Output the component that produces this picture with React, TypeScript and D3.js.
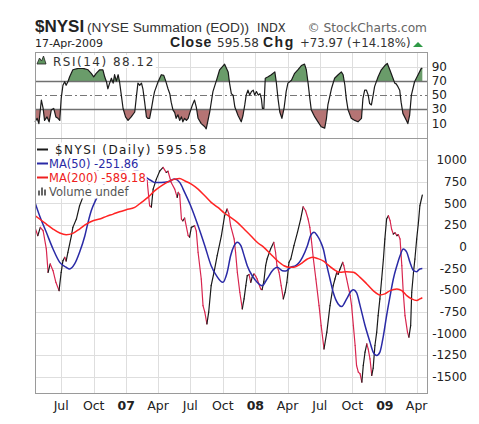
import React, { useEffect, useRef } from 'react';
import * as d3 from 'd3';

type Pt = [string, number];

const nysi: Pt[] = [
  ['2006-04-18',223],['2006-04-26',127],['2006-05-03',223],['2006-05-11',184],['2006-05-20',-26],['2006-05-25',-295],['2006-05-31',-199],['2006-06-08',-276],['2006-06-16',-410],['2006-06-25',-506],['2006-07-01',-295],['2006-07-06',-161],['2006-07-11',-122],['2006-07-15',-165],['2006-07-20',-64],['2006-07-30',127],['2006-08-03',223],['2006-08-13',319],['2006-08-22',472],['2006-08-30',557],['2006-09-15',700],['2006-10-05',850],['2006-10-24',920],['2006-11-16',980],['2006-12-09',1000],['2006-12-28',940],['2007-01-17',900],['2007-02-06',850],['2007-02-20',800],['2007-03-01',760],['2007-03-08',472],['2007-03-13',457],['2007-03-18',664],['2007-03-27',779],['2007-04-06',875],['2007-04-15',914],['2007-04-24',856],['2007-04-29',870],['2007-05-08',741],['2007-05-18',664],['2007-05-25',568],['2007-05-28',626],['2007-06-01',600],['2007-06-06',319],['2007-06-10',299],['2007-06-15',330],['2007-06-25',127],['2007-06-29',110],['2007-07-04',223],['2007-07-13',242],['2007-07-18',180],['2007-07-23',-64],['2007-08-01',-372],['2007-08-06',-679],['2007-08-11',-755],['2007-08-17',-890],['2007-08-22',-755],['2007-08-29',-449],['2007-09-06',-295],['2007-09-15',-104],['2007-09-27',127],['2007-10-06',357],['2007-10-13',434],['2007-10-18',380],['2007-10-23',242],['2007-11-02',89],['2007-11-06',-64],['2007-11-11',-295],['2007-11-18',-525],['2007-11-25',-717],['2007-11-30',-602],['2007-12-05',-449],['2007-12-09',-334],['2007-12-14',-320],['2007-12-19',-410],['2007-12-23',-350],['2007-12-28',-314],['2008-01-02',-340],['2008-01-06',-372],['2008-01-16',-487],['2008-01-20',-495],['2008-01-25',-400],['2008-01-30',-219],['2008-02-03',-142],['2008-02-13',-26],['2008-02-22',51],['2008-02-27',-64],['2008-03-02',-219],['2008-03-08',-295],['2008-03-14',-449],['2008-03-20',-602],['2008-03-25',-525],['2008-03-30',-410],['2008-04-05',-180],['2008-04-10',-142],['2008-04-19',12],['2008-04-29',166],['2008-05-08',319],['2008-05-15',460],['2008-05-22',414],['2008-05-29',319],['2008-06-03',223],['2008-06-07',89],['2008-06-13',-142],['2008-06-20',-372],['2008-06-29',-679],['2008-07-05',-909],['2008-07-13',-1179],['2008-07-21',-985],['2008-07-30',-679],['2008-08-08',-449],['2008-08-13',-372],['2008-08-18',-295],['2008-08-22',-320],['2008-08-27',-260],['2008-09-04',-180],['2008-09-07',-219],['2008-09-15',-372],['2008-09-25',-564],['2008-09-29',-679],['2008-10-04',-909],['2008-10-09',-1139],['2008-10-13',-1369],['2008-10-18',-1446],['2008-10-23',-1465],['2008-10-28',-1561],['2008-11-01',-1369],['2008-11-06',-1215],['2008-11-11',-1120],['2008-11-15',-1180],['2008-11-20',-1292],['2008-11-25',-1484],['2008-11-29',-1400],['2008-12-04',-1139],['2008-12-09',-985],['2008-12-13',-794],['2008-12-18',-602],['2008-12-23',-372],['2008-12-28',-142],['2009-01-01',89],['2009-01-06',319],['2009-01-11',357],['2009-01-16',299],['2009-01-20',204],['2009-01-25',146],['2009-01-30',160],['2009-02-04',127],['2009-02-08',140],['2009-02-13',89],['2009-02-18',-219],['2009-02-22',-525],['2009-02-27',-794],['2009-03-06',-985],['2009-03-10',-1043],['2009-03-15',-909],['2009-03-18',-525],['2009-03-23',-295],['2009-03-27',-142],['2009-04-01',89],['2009-04-06',281],['2009-04-10',472],['2009-04-17',596],
];

const ma50: Pt[] = [
  ['2006-04-18',511],['2006-05-01',357],['2006-05-20',166],['2006-06-08',-26],['2006-06-27',-180],['2006-07-15',-237],['2006-07-25',-257],['2006-08-08',-199],['2006-08-22',-64],['2006-09-06',127],['2006-09-15',281],['2006-09-24',414],['2006-10-08',549],['2006-10-24',680],['2006-11-16',800],['2006-12-14',870],['2007-01-12',900],['2007-02-09',860],['2007-03-01',790],['2007-03-13',760],['2007-03-22',741],['2007-04-10',741],['2007-04-29',748],['2007-05-18',779],['2007-06-01',741],['2007-06-15',626],['2007-07-04',453],['2007-07-23',242],['2007-08-11',12],['2007-08-29',-219],['2007-09-13',-334],['2007-10-01',-410],['2007-10-13',-300],['2007-10-23',-104],['2007-11-02',12],['2007-11-11',51],['2007-11-21',12],['2007-11-30',-100],['2007-12-09',-219],['2007-12-23',-334],['2008-01-06',-410],['2008-01-20',-449],['2008-02-03',-372],['2008-02-18',-276],['2008-03-03',-237],['2008-03-17',-276],['2008-03-27',-280],['2008-04-10',-237],['2008-04-24',-219],['2008-05-13',-122],['2008-05-27',12],['2008-06-05',127],['2008-06-15',166],['2008-06-24',127],['2008-07-04',51],['2008-07-11',-26],['2008-07-21',-219],['2008-07-30',-372],['2008-08-08',-525],['2008-08-22',-660],['2008-09-01',-690],['2008-09-15',-602],['2008-09-29',-506],['2008-10-04',-495],['2008-10-13',-530],['2008-10-23',-679],['2008-11-06',-909],['2008-11-20',-1100],['2008-11-29',-1215],['2008-12-09',-1254],['2008-12-18',-1215],['2008-12-28',-1024],['2009-01-06',-794],['2009-01-16',-564],['2009-01-25',-372],['2009-02-04',-219],['2009-02-13',-104],['2009-02-22',-26],['2009-03-04',-64],['2009-03-13',-180],['2009-03-23',-276],['2009-04-01',-288],['2009-04-10',-257],['2009-04-17',-252],
];

const ma200: Pt[] = [
  ['2006-04-18',360],['2006-05-01',319],['2006-05-20',261],['2006-06-08',204],['2006-06-27',158],['2006-07-15',138],['2006-08-03',154],['2006-08-22',204],['2006-09-10',261],['2006-09-29',299],['2006-10-18',319],['2006-11-06',350],['2006-11-25',376],['2006-12-13',403],['2007-01-01',426],['2007-01-25',453],['2007-02-13',511],['2007-03-03',568],['2007-03-22',644],['2007-04-10',702],['2007-04-29',748],['2007-05-18',779],['2007-06-01',787],['2007-06-15',760],['2007-07-04',722],['2007-07-23',664],['2007-08-11',587],['2007-08-29',511],['2007-09-17',453],['2007-10-06',386],['2007-10-23',338],['2007-11-11',281],['2007-11-30',204],['2007-12-19',127],['2008-01-06',51],['2008-01-25',-7],['2008-02-13',-84],['2008-03-03',-161],['2008-03-22',-219],['2008-04-05',-237],['2008-04-19',-237],['2008-05-08',-199],['2008-05-27',-142],['2008-06-10',-122],['2008-06-24',-135],['2008-07-13',-170],['2008-07-21',-199],['2008-08-08',-257],['2008-08-27',-295],['2008-09-15',-288],['2008-10-04',-295],['2008-10-23',-353],['2008-11-11',-429],['2008-11-29',-506],['2008-12-18',-556],['2009-01-01',-544],['2009-01-16',-506],['2009-02-04',-487],['2009-02-18',-506],['2009-03-04',-564],['2009-03-18',-602],['2009-04-01',-621],['2009-04-10',-602],['2009-04-17',-589],
];

const rsi: Pt[] = [
  ['2006-04-18',12],['2006-04-24',17],['2006-04-29',9.5],['2006-05-06',43],['2006-05-11',31],['2006-05-15',14],['2006-05-22',19],['2006-05-28',12],['2006-06-03',29],['2006-06-10',31],['2006-06-16',19],['2006-06-22',17],['2006-06-27',14],['2006-07-01',45],['2006-07-06',64],['2006-07-11',69],['2006-07-15',64],['2006-07-20',69],['2006-07-25',76],['2006-08-03',86],['2006-08-18',88],['2006-09-01',88],['2006-09-15',86],['2006-09-24',81],['2006-10-01',76],['2006-10-08',81],['2006-10-18',86],['2006-10-27',86],['2006-11-01',76],['2006-11-06',69],['2006-11-10',59],['2006-11-15',67],['2006-11-20',74],['2006-11-25',67],['2006-11-29',79],['2006-12-04',70],['2006-12-09',79],['2006-12-13',69],['2006-12-18',50],['2006-12-23',31],['2006-12-30',19],['2007-01-06',14],['2007-01-15',19],['2007-01-25',26],['2007-01-29',45],['2007-02-03',67],['2007-02-08',64],['2007-02-13',67],['2007-02-17',59],['2007-02-22',40],['2007-02-27',19],['2007-03-03',17],['2007-03-08',17],['2007-03-13',30],['2007-03-18',45],['2007-03-22',55],['2007-04-01',69],['2007-04-10',79],['2007-04-17',78],['2007-04-22',71],['2007-04-29',59],['2007-05-04',52],['2007-05-08',40],['2007-05-13',29],['2007-05-18',25],['2007-05-22',17],['2007-05-27',22],['2007-06-01',14],['2007-06-06',19],['2007-06-10',12],['2007-06-15',17],['2007-06-20',14],['2007-06-25',17],['2007-06-29',24],['2007-07-07',36],['2007-07-13',43],['2007-07-18',33],['2007-07-23',17],['2007-08-01',9.5],['2007-08-11',5],['2007-08-15',2],['2007-08-25',26],['2007-09-03',55],['2007-09-13',71],['2007-09-22',86],['2007-10-06',94],['2007-10-16',83],['2007-10-20',67],['2007-10-25',52],['2007-10-30',50],['2007-11-04',33],['2007-11-13',21],['2007-11-22',12],['2007-11-27',21],['2007-12-02',36],['2007-12-06',50],['2007-12-11',57],['2007-12-16',50],['2007-12-21',55],['2007-12-26',57],['2007-12-30',50],['2008-01-04',55],['2008-01-09',50],['2008-01-14',52],['2008-01-18',45],['2008-01-21',31],['2008-01-25',31],['2008-01-29',74],['2008-02-06',76],['2008-02-15',79],['2008-02-25',83],['2008-02-29',69],['2008-03-05',45],['2008-03-10',26],['2008-03-16',17],['2008-03-22',31],['2008-03-28',55],['2008-04-02',67],['2008-04-07',69],['2008-04-12',71],['2008-04-21',81],['2008-04-30',86],['2008-05-10',92],['2008-05-19',94],['2008-05-24',86],['2008-05-29',67],['2008-06-03',45],['2008-06-07',29],['2008-06-17',19],['2008-06-26',12],['2008-07-05',5],['2008-07-15',3],['2008-07-20',17],['2008-07-24',36],['2008-08-03',59],['2008-08-12',74],['2008-08-22',79],['2008-08-31',83],['2008-09-05',79],['2008-09-10',64],['2008-09-14',45],['2008-09-19',29],['2008-09-28',17],['2008-10-08',14],['2008-10-17',12],['2008-10-27',17],['2008-10-31',45],['2008-11-05',57],['2008-11-10',57],['2008-11-15',50],['2008-11-19',38],['2008-11-24',36],['2008-11-29',50],['2008-12-03',62],['2008-12-13',76],['2008-12-22',86],['2009-01-01',92],['2009-01-08',95],['2009-01-15',86],['2009-01-24',74],['2009-01-29',67],['2009-02-02',66],['2009-02-07',62],['2009-02-12',57],['2009-02-16',40],['2009-02-21',24],['2009-03-03',14],['2009-03-07',9.5],['2009-03-12',21],['2009-03-17',50],['2009-03-26',69],['2009-04-05',79],['2009-04-14',88],['2009-04-17',88.12],
];

const xTickDates = ['2006-07-01','2006-10-01','2007-01-01','2007-04-01','2007-07-01','2007-10-01','2008-01-01','2008-04-01','2008-07-01','2008-10-01','2009-01-01','2009-04-01'];
const xTickLabels = ['Jul','Oct','07','Apr','Jul','Oct','08','Apr','Jul','Oct','09','Apr'];
const yTicks = [1000,750,500,250,0,-250,-500,-750,-1000,-1250,-1500];
const rsiTicks = [90,70,50,30,10];
const rsiLightLines = [10,90];
const legendLabels = ['$NYSI (Daily) 595.58','MA(50) -251.86','MA(200) -589.18','Volume undef'];
const rsiLabel = 'RSI(14) 88.12';

export default function App() {
  const ref = useRef<SVGSVGElement | null>(null);
  useEffect(() => {
    const svg = d3.select(ref.current as SVGSVGElement);
    svg.selectAll('*').remove();
    const W = 479, H = 424, L = 35, R = 428, rT = 51.5, rB = 138, mT = 138, mB = 393.5;
    const parse = d3.utcParse('%Y-%m-%d');
    const P = (s: string) => parse(s) as Date;
    const x = d3.scaleUtc().domain([P('2006-04-18'), P('2009-05-03')]).range([L, R]);
    const y = d3.scaleLinear().domain([-1692, 1253]).range([mB, mT]);
    const yr = d3.scaleLinear().domain([-11, 112]).range([rB, rT]);
    const sans = '"DejaVu Sans", Verdana, sans-serif';
    const arial = '"Liberation Sans", Arial, sans-serif';
    const gridC = '#dedede';

    svg.append('rect').attr('width', W).attr('height', H).attr('fill', '#fff');

    // header
    const hdr = svg.append('g');
    hdr.append('text').attr('x', 35).attr('y', 31.5).attr('font-family', arial).attr('font-weight', 'bold').attr('font-size', 17).attr('fill', '#222').text('$NYSI');
    hdr.append('text').attr('x', 87).attr('y', 31.5).attr('font-family', arial).attr('font-size', 13.7).attr('fill', '#333').text('(NYSE Summation (EOD))');
    hdr.append('text').attr('x', 257).attr('y', 31.5).attr('font-family', sans).attr('font-size', 11.5).attr('fill', '#333').text('INDX');
    hdr.append('text').attr('x', 427).attr('y', 31.5).attr('text-anchor', 'end').attr('font-family', sans).attr('font-size', 12.2).attr('fill', '#666').text('\u00A9 StockCharts.com');
    hdr.append('text').attr('x', 35).attr('y', 47.2).attr('font-family', sans).attr('font-size', 11).attr('fill', '#222').text('17-Apr-2009');
    hdr.append('text').attr('x', 170).attr('y', 47.2).attr('font-family', arial).attr('font-weight', 'bold').attr('font-size', 14).attr('letter-spacing', 0.8).attr('fill', '#222').text('Close');
    hdr.append('text').attr('x', 217).attr('y', 47.2).attr('font-family', sans).attr('font-size', 12).attr('fill', '#333').text('595.58');
    hdr.append('text').attr('x', 263).attr('y', 47.2).attr('font-family', arial).attr('font-weight', 'bold').attr('font-size', 14).attr('letter-spacing', 1.5).attr('fill', '#222').text('Chg');
    hdr.append('text').attr('x', 300).attr('y', 47.2).attr('font-family', sans).attr('font-size', 11.7).attr('fill', '#333').text('+73.97 (+14.18%)');
    hdr.append('path').attr('d', 'M413,47 L423,47 L418,42 Z').attr('fill', '#2e9a46');

    const defs = svg.append('defs');
    defs.append('clipPath').attr('id', 'mainClip').append('rect').attr('x', L).attr('y', mT).attr('width', R - L).attr('height', mB - mT);
    defs.append('clipPath').attr('id', 'rsiAbove').append('rect').attr('x', L).attr('y', rT).attr('width', R - L).attr('height', yr(70) - rT);
    defs.append('clipPath').attr('id', 'rsiBelow').append('rect').attr('x', L).attr('y', yr(30)).attr('width', R - L).attr('height', rB - yr(30));

    // grid
    const grid = svg.append('g').attr('shape-rendering', 'crispEdges');
    xTickDates.forEach((d) => {
      const xx = Math.round(x(P(d))) + 0.5;
      grid.append('line').attr('x1', xx).attr('x2', xx).attr('y1', rT).attr('y2', mB).attr('stroke', gridC);
    });
    yTicks.forEach((v) => {
      const yy = Math.round(y(v)) + 0.5;
      grid.append('line').attr('x1', L).attr('x2', R).attr('y1', yy).attr('y2', yy).attr('stroke', gridC);
    });
    rsiLightLines.forEach((v) => {
      const yy = Math.round(yr(v)) + 0.5;
      grid.append('line').attr('x1', L).attr('x2', R).attr('y1', yy).attr('y2', yy).attr('stroke', gridC);
    });

    // RSI panel
    const rsiPts = rsi.map(([d, v]) => [P(d), v] as [Date, number]);
    const areaAbove = d3.area<[Date, number]>().x((d) => x(d[0])).y0(yr(70)).y1((d) => yr(d[1]));
    const areaBelow = d3.area<[Date, number]>().x((d) => x(d[0])).y0(yr(30)).y1((d) => yr(d[1]));
    svg.append('path').attr('d', areaAbove(rsiPts) as string).attr('fill', '#6a9c6a').attr('clip-path', 'url(#rsiAbove)');
    svg.append('path').attr('d', areaBelow(rsiPts) as string).attr('fill', '#b57474').attr('clip-path', 'url(#rsiBelow)');
    [70, 30].forEach((v) => {
      const yy = Math.round(yr(v)) + 0.5;
      svg.append('line').attr('x1', L).attr('x2', R).attr('y1', yy).attr('y2', yy).attr('stroke', '#707070').attr('stroke-width', 1.3);
    });
    {
      const yy = Math.round(yr(50)) + 0.5;
      svg.append('line').attr('x1', L).attr('x2', R).attr('y1', yy).attr('y2', yy).attr('stroke', '#777').attr('stroke-dasharray', '7,3,2,3');
    }
    const rsiLine = d3.line<[Date, number]>().x((d) => x(d[0])).y((d) => yr(d[1]));
    svg.append('path').attr('d', rsiLine(rsiPts) as string).attr('fill', 'none').attr('stroke', '#1a1a1a').attr('stroke-width', 1.2).attr('stroke-linejoin', 'round');

    // main panel lines
    const main = svg.append('g').attr('clip-path', 'url(#mainClip)');
    const nPts = nysi.map(([d, v]) => [P(d), v] as [Date, number]);
    const segLine = d3.line<[Date, number]>().x((d) => x(d[0])).y((d) => y(d[1]));
    for (let i = 0; i < nPts.length - 1; i++) {
      const up = nPts[i + 1][1] >= nPts[i][1];
      main.append('path').attr('d', segLine([nPts[i], nPts[i + 1]]) as string).attr('fill', 'none')
        .attr('stroke', up ? '#1a1a1a' : '#d8264f').attr('stroke-width', 1.2).attr('stroke-linecap', 'round');
    }
    const smooth = d3.line<[Date, number]>().x((d) => x(d[0])).y((d) => y(d[1])).curve(d3.curveMonotoneX);
    main.append('path').attr('d', smooth(ma50.map(([d, v]) => [P(d), v] as [Date, number])) as string)
      .attr('fill', 'none').attr('stroke', '#2a2aa6').attr('stroke-width', 1.5);
    main.append('path').attr('d', smooth(ma200.map(([d, v]) => [P(d), v] as [Date, number])) as string)
      .attr('fill', 'none').attr('stroke', '#ff2424').attr('stroke-width', 1.5);

    // frames
    const fr = svg.append('g').attr('shape-rendering', 'crispEdges').attr('fill', 'none').attr('stroke', '#9a9a9a');
    fr.append('rect').attr('x', L + 0.5).attr('y', rT + 0.5).attr('width', R - L - 1).attr('height', rB - rT);
    fr.append('rect').attr('x', L + 0.5).attr('y', mT + 0.5).attr('width', R - L - 1).attr('height', mB - mT - 1);

    // axis labels
    const ax = svg.append('g').attr('font-family', sans).attr('fill', '#222');
    yTicks.forEach((v) => {
      ax.append('text').attr('x', 467).attr('y', y(v) + 4.3).attr('text-anchor', 'end').attr('font-size', 12).text(String(v));
    });
    rsiTicks.forEach((v) => {
      ax.append('text').attr('x', 447).attr('y', yr(v) + 4.3).attr('text-anchor', 'end').attr('font-size', 12).text(String(v));
    });
    xTickDates.forEach((d, i) => {
      const isYear = /^\d+$/.test(xTickLabels[i]);
      ax.append('text').attr('x', x(P(d))).attr('y', 409.5).attr('text-anchor', 'middle')
        .attr('font-size', 12.5).attr('font-weight', isYear ? 'bold' : 'normal').text(xTickLabels[i]);
    });

    // RSI label
    {
      const g = svg.append('g');
      const bg = g.append('rect').attr('fill', '#fff');
      g.append('path').attr('d', 'M37,64 L39.5,58 L41.5,61 L43.5,56 L46,64 Z').attr('fill', '#5f945f').attr('stroke', '#222').attr('stroke-width', 0.8);
      const t = g.append('text').attr('x', 53).attr('y', 66).attr('font-family', sans).attr('font-size', 12).attr('letter-spacing', 1.5).attr('fill', '#333').text(rsiLabel);
      const bb = (t.node() as SVGTextElement).getBBox();
      bg.attr('x', 36).attr('y', 55).attr('width', bb.x + bb.width - 36 + 1).attr('height', 13);
    }

    // main legend
    const legColors = ['#1a1a1a', '#2a2aa6', '#ee2020', '#555'];
    const legBase = [153.5, 167.5, 181.5, 195.5];
    legendLabels.forEach((lab, i) => {
      const g = svg.append('g');
      const bg = g.append('rect').attr('fill', '#fff');
      const b = legBase[i];
      if (i < 3) {
        g.append('line').attr('x1', 37).attr('x2', 48).attr('y1', b - 4).attr('y2', b - 4).attr('stroke', legColors[i]).attr('stroke-width', 2);
      } else {
        [[38, 5], [41, 8], [44, 6]].forEach(([bx, bh]) => {
          g.append('rect').attr('x', bx).attr('y', b - bh).attr('width', 2).attr('height', bh).attr('fill', '#666');
        });
      }
      const t = g.append('text').attr('x', i === 0 ? 55 : 49).attr('y', b).attr('font-family', sans)
        .attr('font-size', i === 0 ? 12 : 11.5).attr('letter-spacing', i === 0 ? 1.4 : 0).attr('fill', legColors[i]).text(lab);
      const bb = (t.node() as SVGTextElement).getBBox();
      bg.attr('x', 36).attr('y', b - 11).attr('width', bb.x + bb.width - 36 + 1).attr('height', 14);
    });
  }, []);
  return <svg ref={ref} width={479} height={424} style={{ position: 'absolute', left: 0, top: 0, display: 'block' }} />;
}
